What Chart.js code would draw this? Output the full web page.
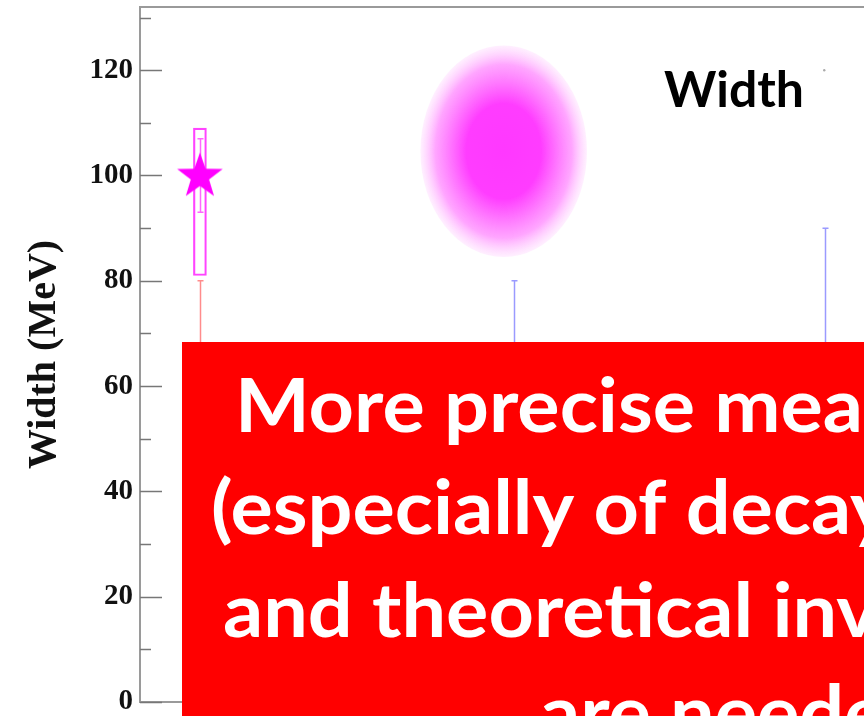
<!DOCTYPE html>
<html>
<head>
<meta charset="utf-8">
<title>Width</title>
<script src="https://cdn.jsdelivr.net/npm/chart.js@4.4.1/dist/chart.umd.min.js"></script>
<style>
  html, body { margin: 0; padding: 0; background: #fff; overflow: hidden; }
  #wrap { width: 864px; height: 716px; position: relative; }
</style>
</head>
<body>
<div id="wrap"><canvas id="widthChart" width="864" height="716"></canvas></div>
<script>
// y axis (MeV)
const yMin = 0;
const yMax = 132;
const yStep = 10;
const yLabelStep = 20;

// x is only a slot position, no labels on it
const xMin = 0;
const xMax = 12;

// measured value (star) and its error
const starX = [1.0];
const starY = [100];
const starErrLow = [93];
const starErrHigh = [107];

// magenta band around the measurement
const bandX = [1.0];
const bandLow = [81];
const bandHigh = [109];

// predictions, only the upper part shows above the red box
const predX = [1.0, 6.24, 11.44];
const predLow = [40, 40, 40];
const predHigh = [80, 80, 90];
const predColors = ['#ff8c8c', '#9a9aff', '#9a9aff'];

// fuzzy region
const blobXLow = [4.68];
const blobXHigh = [7.46];
const blobYLow = [84.5];
const blobYHigh = [124.7];

// tiny grey point near the top
const dotX = [11.42];
const dotY = [120];

const plotTitle = 'Width';
const noteLines = [
  'More precise measurements',
  '(especially of decay widths)',
  'and theoretical investigations',
  'are needed',
];

document.addEventListener('DOMContentLoaded', () => {
  initWidthChart();
});

/* filled 5-point star used as point style */
function makeStar(r, color) {
  const c = document.createElement('canvas');
  const s = Math.ceil(r * 2 + 2);
  c.width = s;
  c.height = s;
  const g = c.getContext('2d');
  g.fillStyle = color;
  g.beginPath();
  for (let k = 0; k < 10; k++) {
    const rad = k % 2 === 0 ? r : r * 0.4;
    const a = -Math.PI / 2 + k * Math.PI / 5;
    g.lineTo(s / 2 + rad * Math.cos(a), s / 2 + rad * Math.sin(a) + 1);
  }
  g.closePath();
  g.fill();
  return c;
}

function drawErrBar(ctx, px, pyLow, pyHigh, color, cap) {
  ctx.strokeStyle = color;
  ctx.lineWidth = 1.5;
  ctx.beginPath();
  ctx.moveTo(px, pyLow);
  ctx.lineTo(px, pyHigh);
  ctx.moveTo(px - cap, pyHigh);
  ctx.lineTo(px + cap, pyHigh);
  ctx.moveTo(px - cap, pyLow);
  ctx.lineTo(px + cap, pyLow);
  ctx.stroke();
}

/* frame, inward ticks, blob and error bars */
const marksPlugin = {
  id: 'marks',
  beforeDatasetsDraw(chart) {
    const { ctx, chartArea, scales: { x, y } } = chart;
    ctx.save();

    // frame: left, top, bottom
    ctx.strokeStyle = '#9a9a9a';
    ctx.lineWidth = 2;
    ctx.beginPath();
    ctx.moveTo(chartArea.right + 10, chartArea.top);
    ctx.lineTo(chartArea.left, chartArea.top);
    ctx.lineTo(chartArea.left, chartArea.bottom);
    ctx.lineTo(chartArea.right + 10, chartArea.bottom);
    ctx.stroke();

    // ticks pointing into the plot
    ctx.strokeStyle = '#777';
    ctx.lineWidth = 1.5;
    y.ticks.forEach((t) => {
      const py = Math.round(y.getPixelForValue(t.value)) + 0.5;
      const len = t.value % yLabelStep === 0 ? 22 : 11;
      ctx.beginPath();
      ctx.moveTo(chartArea.left, py);
      ctx.lineTo(chartArea.left + len, py);
      ctx.stroke();
    });

    // blob with radial fade
    blobXLow.forEach((_, i) => {
      const x0 = x.getPixelForValue(blobXLow[i]);
      const x1 = x.getPixelForValue(blobXHigh[i]);
      const y0 = y.getPixelForValue(blobYHigh[i]);
      const y1 = y.getPixelForValue(blobYLow[i]);
      ctx.save();
      ctx.translate((x0 + x1) / 2, (y0 + y1) / 2);
      ctx.scale((x1 - x0) / 2, (y1 - y0) / 2);
      const g = ctx.createRadialGradient(0, 0, 0, 0, 0, 1);
      g.addColorStop(0, 'rgba(255,56,255,1)');
      g.addColorStop(0.45, 'rgba(255,60,255,1)');
      g.addColorStop(0.82, 'rgba(255,150,255,0.85)');
      g.addColorStop(1, 'rgba(255,225,255,0.5)');
      ctx.fillStyle = g;
      ctx.beginPath();
      ctx.arc(0, 0, 1, 0, Math.PI * 2);
      ctx.fill();
      ctx.restore();
    });

    // prediction bars
    predX.forEach((v, i) => {
      drawErrBar(ctx, Math.round(x.getPixelForValue(v)) + 0.5,
        y.getPixelForValue(predLow[i]), y.getPixelForValue(predHigh[i]), predColors[i], 3);
    });

    // error of the star
    starX.forEach((v, i) => {
      drawErrBar(ctx, Math.round(x.getPixelForValue(v)) + 0.5,
        y.getPixelForValue(starErrLow[i]), y.getPixelForValue(starErrHigh[i]), '#ff66ff', 3);
    });

    ctx.restore();
  },
  afterDraw(chart) {
    const { ctx } = chart;
    ctx.save();

    // label inside the plot
    ctx.fillStyle = '#000';
    ctx.font = 'bold 50px Lato';
    ctx.textBaseline = 'alphabetic';
    const wx = 140 / ctx.measureText(plotTitle).width;
    ctx.save();
    ctx.translate(664, 107);
    ctx.scale(wx, 1);
    ctx.fillText(plotTitle, 0, 0);
    ctx.restore();

    // red note box
    ctx.fillStyle = '#ff0000';
    ctx.fillRect(182, 342, 700, 400);
    ctx.fillStyle = '#fff';
    ctx.font = 'bold 75px Lato';
    const sx = 628 / ctx.measureText('More precise mea').width;
    const starts = [235, 211, 223, 540];
    const baselines = [432, 534, 637, 739];
    noteLines.forEach((line, i) => {
      ctx.save();
      ctx.translate(starts[i], baselines[i]);
      ctx.scale(sx, 1);
      ctx.fillText(line, 0, 0);
      ctx.restore();
    });

    ctx.restore();
  },
};

function initWidthChart() {
  const ctx = document.getElementById('widthChart');
  if (!ctx || typeof Chart === 'undefined') return;

  const starImg = makeStar(24, '#ff00ff');

  new Chart(ctx, {
    type: 'scatter',
    data: {
      datasets: [
        {
          type: 'bar',
          label: 'band',
          data: bandX.map((v, i) => ({ x: v, y: [bandLow[i], bandHigh[i]] })),
          backgroundColor: 'rgba(0,0,0,0)',
          borderColor: '#ff44ff',
          borderWidth: 1.5,
          borderSkipped: false,
          barThickness: 13,
          order: 2,
        },
        {
          label: 'measured',
          data: starX.map((v, i) => ({ x: v, y: starY[i] })),
          pointStyle: starImg,
          order: 1,
        },
        {
          label: 'dot',
          data: dotX.map((v, i) => ({ x: v, y: dotY[i] })),
          pointRadius: 1.2,
          backgroundColor: '#aaa',
          borderWidth: 0,
          order: 1,
        },
      ],
    },
    options: {
      responsive: false,
      animation: false,
      events: [],
      layout: { padding: { top: 7, bottom: 14, left: 0, right: 0 } },
      plugins: {
        legend: { display: false },
        tooltip: { enabled: false },
      },
      scales: {
        x: {
          type: 'linear',
          min: xMin,
          max: xMax,
          offset: false,
          display: false,
        },
        y: {
          type: 'linear',
          min: yMin,
          max: yMax,
          grid: { display: false, drawTicks: false },
          border: { display: false },
          afterFit(scale) {
            scale.width = 140;
            scale.paddingTop = 0;
            scale.paddingBottom = 0;
          },
          ticks: {
            stepSize: yStep,
            includeBounds: false,
            autoSkip: false,
            padding: 7,
            color: '#111',
            font: { family: 'Liberation Serif', size: 29, weight: 'bold' },
            callback: (v) => (v % yLabelStep === 0 ? v : ''),
          },
          title: {
            display: true,
            text: 'Width (MeV)',
            color: '#111',
            padding: { top: 21, bottom: 0 },
            font: { family: 'Liberation Serif', size: 40, weight: 'bold', lineHeight: 1.2 },
          },
        },
      },
    },
    plugins: [marksPlugin],
  });
}
</script>
</body>
</html>
